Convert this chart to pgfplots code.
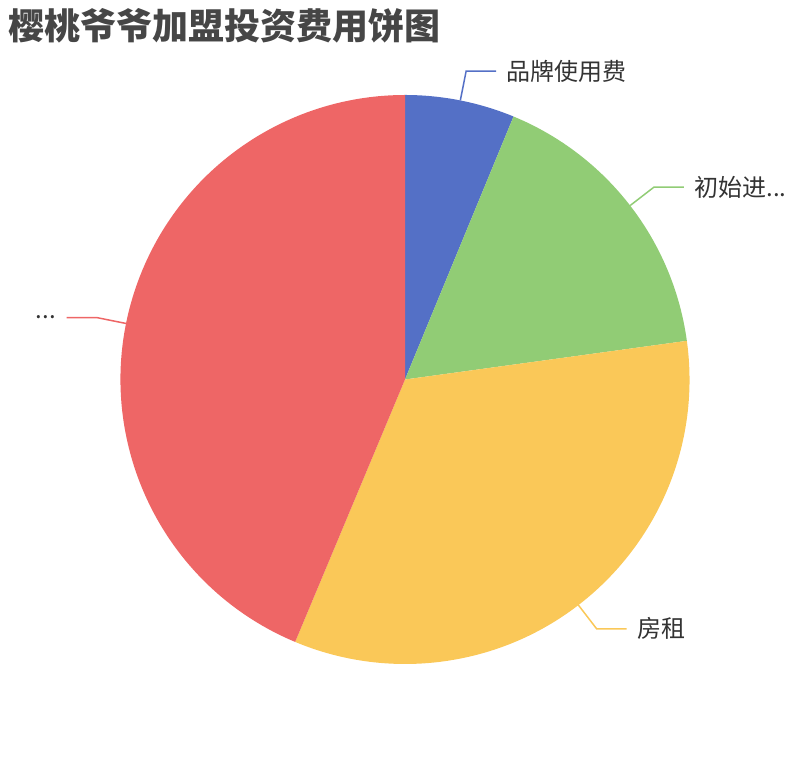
\documentclass[border=0pt]{standalone}
\usepackage{pgfplots}
\pgfplotsset{compat=1.18}
\usepackage{pgfplotstable}
\usepackage{fontspec}
\newfontfamily\cjk{Noto Sans CJK SC}
\definecolor{pieblue}{HTML}{5470C6}
\definecolor{piegreen}{HTML}{91CC75}
\definecolor{pieyellow}{HTML}{FAC858}
\definecolor{piered}{HTML}{EE6666}
\definecolor{titlegray}{HTML}{464646}
\definecolor{labelgray}{HTML}{333333}

% slice values (percent of total investment)
\pgfplotstableread{
idx value
0 6.23
1 16.60
2 33.48
3 43.69
}\piedata

\begin{document}%
\begin{tikzpicture}
\pgfplotstablegetelem{0}{value}\of\piedata \pgfmathsetmacro\va{\pgfplotsretval}
\pgfplotstablegetelem{1}{value}\of\piedata \pgfmathsetmacro\vb{\pgfplotsretval}
\pgfplotstablegetelem{2}{value}\of\piedata \pgfmathsetmacro\vc{\pgfplotsretval}
\pgfplotstablegetelem{3}{value}\of\piedata \pgfmathsetmacro\vd{\pgfplotsretval}
\pgfmathsetmacro\tot{\va+\vb+\vc+\vd}
\pgfmathsetmacro\aA{90}
\pgfmathsetmacro\aB{\aA-360*\va/\tot}
\pgfmathsetmacro\aC{\aB-360*\vb/\tot}
\pgfmathsetmacro\aD{\aC-360*\vc/\tot}
\pgfmathsetmacro\aE{\aD-360*\vd/\tot}
\pgfmathsetmacro\mA{(\aA+\aB)/2}
\pgfmathsetmacro\mB{(\aB+\aC)/2}
\pgfmathsetmacro\mC{(\aC+\aD)/2}
\pgfmathsetmacro\mD{(\aD+\aE)/2}
\def\cx{405}
\def\cy{380.5}
\def\R{284.5}
\begin{axis}[
  x=1bp, y=1bp,
  xmin=0, xmax=810, ymin=0, ymax=760,
  hide axis, clip=false,
]
\path (axis cs:0,0) rectangle (axis cs:810,760);
\fill[pieblue]   (axis cs:\cx,\cy) -- ++(\aA:\R bp) arc[start angle=\aA, end angle=\aB, radius=\R bp] -- cycle;
\fill[piegreen]  (axis cs:\cx,\cy) -- ++(\aB:\R bp) arc[start angle=\aB, end angle=\aC, radius=\R bp] -- cycle;
\fill[pieyellow] (axis cs:\cx,\cy) -- ++(\aC:\R bp) arc[start angle=\aC, end angle=\aD, radius=\R bp] -- cycle;
\fill[piered]    (axis cs:\cx,\cy) -- ++(\aD:\R bp) arc[start angle=\aD, end angle=\aE, radius=\R bp] -- cycle;

\draw[pieblue, line width=1.5bp] (axis cs:\cx,\cy) ++(\mA:\R bp) -- ++(\mA:30bp) -- ++(30bp,0)
  node[anchor=west, inner sep=0pt, xshift=10bp, text=labelgray, font=\cjk\fontsize{24bp}{28bp}\selectfont] {品牌使用费};
\draw[piegreen, line width=1.5bp] (axis cs:\cx,\cy) ++(\mB:\R bp) -- ++(\mB:30bp) -- ++(30bp,0)
  node[anchor=west, inner sep=0pt, xshift=10bp, text=labelgray, font=\cjk\fontsize{24bp}{28bp}\selectfont] {初始进...};
\draw[pieyellow, line width=1.5bp] (axis cs:\cx,\cy) ++(\mC:\R bp) -- ++(\mC:30bp) -- ++(30bp,0)
  node[anchor=west, inner sep=0pt, xshift=10bp, text=labelgray, font=\cjk\fontsize{24bp}{28bp}\selectfont] {房租};
\draw[piered, line width=1.5bp] (axis cs:\cx,\cy) ++(\mD:\R bp) -- ++(\mD:30bp) -- ++(-30bp,0)
  node[anchor=east, inner sep=0pt, xshift=-10bp, text=labelgray, font=\cjk\fontsize{24bp}{28bp}\selectfont] {...};

\node[anchor=west, inner sep=0pt, text=titlegray, font=\cjk\bfseries\fontsize{36bp}{42bp}\selectfont] at (axis cs:8,734) {樱桃爷爷加盟投资费用饼图};
\end{axis}
\end{tikzpicture}%
\end{document}
